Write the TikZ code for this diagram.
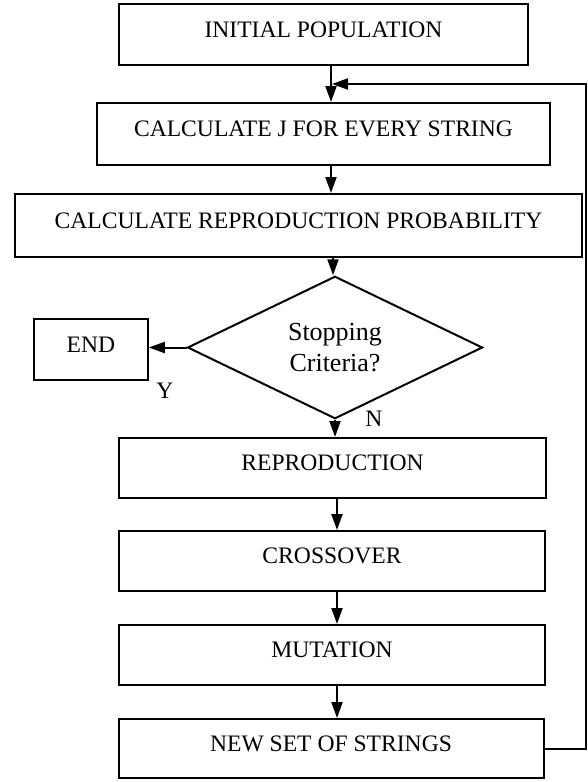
\documentclass[tikz,border=0pt]{standalone}
\usepackage{fontspec}
\setmainfont{Liberation Serif}
\usetikzlibrary{shapes.geometric,arrows.meta}
\begin{document}
\begin{tikzpicture}[x=1pt,y=-1pt,
  box/.style={draw,line width=2pt,inner sep=0pt,font=\fontsize{23.6}{28}\selectfont,text height=16pt,text depth=11pt},
  arr/.style={line width=2pt,-{Triangle[length=16pt,width=11pt]}},
  lbl/.style={font=\fontsize{23.6}{28}\selectfont,inner sep=0pt}]
\useasboundingbox (0,0) rectangle (588,782);
\node[box,minimum width=409pt,minimum height=61pt] (init) at (323.5,34.5) {INITIAL POPULATION};
\node[box,minimum width=453pt,minimum height=62pt] (calcj) at (323.5,134) {CALCULATE J FOR EVERY STRING};
\node[box,minimum width=567pt,minimum height=63pt] (calcr) at (298.5,225.5) {CALCULATE REPRODUCTION PROBABILITY};
\node[draw,diamond,line width=2pt,inner sep=0pt,minimum width=295pt,minimum height=117pt,align=center,font=\fontsize{26}{31}\selectfont] (dia) at (335,347.5) {Stopping\\Criteria?};
\node[box,minimum width=113.5pt,minimum height=61pt] (end) at (91,349.5) {END};
\node[box,minimum width=427pt,minimum height=60pt] (repro) at (332.5,468) {REPRODUCTION};
\node[box,minimum width=426pt,minimum height=60pt] (cross) at (332,561) {CROSSOVER};
\node[box,minimum width=426pt,minimum height=60pt] (mut) at (332,655) {MUTATION};
\node[box,minimum width=425pt,minimum height=59pt] (newset) at (331,748.5) {NEW SET OF STRINGS};
\node[lbl] (ylab) at (165,391) {Y};
\node[lbl] (nlab) at (374,419) {N};
\coordinate (c1) at (331,0);
\coordinate (c2) at (333,0);
\coordinate (c3) at (337,0);
\coordinate (rt) at (586,84);
\coordinate (join) at (332,84);
\draw[arr] (init.south -| c1) -- (calcj.north -| c1);
\draw[arr] (calcj.south -| c1) -- (calcr.north -| c1);
\draw[arr] (calcr.south -| c2) -- (dia.north -| c2);
\draw[arr] (dia.south) -- (repro.north -| dia.south);
\draw[arr] (repro.south -| c3) -- (cross.north -| c3);
\draw[arr] (cross.south -| c3) -- (mut.north -| c3);
\draw[arr] (mut.south -| c3) -- (newset.north -| c3);
\draw[arr] (dia.west) -- (dia.west -| end.east);
\draw[arr] (newset.east) -| (rt) -- (join);
\end{tikzpicture}
\end{document}
